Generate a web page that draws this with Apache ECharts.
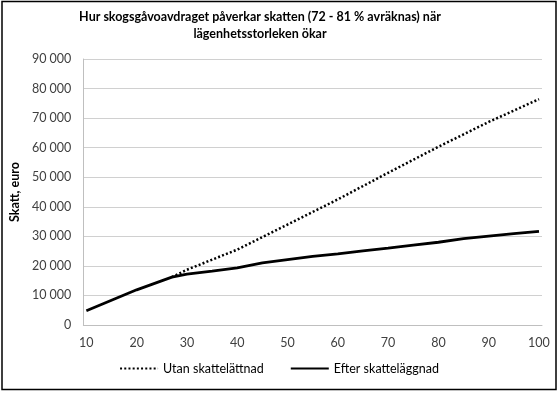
<!DOCTYPE html>
<html>
<head>
<meta charset="utf-8">
<script src="https://cdn.jsdelivr.net/npm/echarts@6/dist/echarts.min.js"></script>
<style>
html,body{margin:0;padding:0;background:#fff;}
#c{width:558px;height:393px;}
</style>
</head>
<body>
<div id="c"></div>
<script>
var titleText = 'Hur skogsgåvoavdraget påverkar skatten (72 - 81 % avräknas) när\nlägenhetsstorleken ökar';
var yAxisName = 'Skatt, euro';
var xTicks = [10, 20, 30, 40, 50, 60, 70, 80, 90, 100];
var seriesNames = ['Utan skattelättnad', 'Efter skatteläggnad'];
// Utan skattelättnad (dotted)
var utanX = [27, 30, 40, 50, 60, 70, 80, 90, 100];
var utanY = [16200, 18700, 25500, 34000, 42500, 51500, 60300, 68700, 76400];
// Efter skatteläggnad (solid)
var efterX = [10, 15, 20, 27, 30, 35, 40, 45, 50, 55, 60, 65, 70, 75, 80, 85, 90, 95, 100];
var efterY = [4800, 8400, 11900, 16200, 17200, 18200, 19300, 21000, 22100, 23200, 24100, 25100, 26000, 27000, 28000, 29200, 30100, 30900, 31700];

function pairs(xs, ys){ return xs.map(function(x,i){ return [x, ys[i]]; }); }
function fmt(v){ return v === 0 ? '0' : String(v).replace(/\B(?=(\d{3})+(?!\d))/g, ' '); }

var FONT = 'Lato, "Noto Sans", sans-serif';
var chart = echarts.init(document.getElementById('c'), null, {renderer:'canvas'});
chart.setOption({
  animation: false,
  backgroundColor: '#fff',
  grid: {left: 83, right: 16, top: 59, bottom: 68, containLabel: false},
  legend: {
    data: seriesNames, bottom: 13, left: 'center', itemGap: 26, itemWidth: 38, itemHeight: 10,
    itemStyle: {opacity: 0},
    textStyle: {fontFamily: FONT, fontSize: 12.5, color: '#000'}
  },
  xAxis: {
    type: 'value', min: 9.4, max: 100.6,
    axisLine: {show: true, lineStyle: {color: '#bfbfbf', width: 1}},
    axisTick: {show: false},
    splitLine: {show: false},
    axisLabel: {customValues: xTicks, fontFamily: FONT, fontSize: 12.5, color: '#404040', margin: 11}
  },
  yAxis: {
    type: 'value', min: 0, max: 90000, interval: 10000,
    name: yAxisName, nameLocation: 'middle', nameGap: 54,
    nameTextStyle: {fontFamily: FONT, fontSize: 12.5, fontWeight: 'bold', color: '#000'},
    axisLine: {show: true, lineStyle: {color: '#bfbfbf', width: 1}},
    axisTick: {show: false},
    splitLine: {lineStyle: {color: '#d0d0d0', width: 1}},
    axisLabel: {formatter: fmt, fontFamily: FONT, fontSize: 12.5, color: '#404040', margin: 12}
  },
  series: [
    {name: seriesNames[0], type: 'line', data: pairs(utanX, utanY), showSymbol: false, symbol: 'none',
     lineStyle: {color: '#000', width: 2.5, type: [2, 2.2], cap: 'butt'}, itemStyle: {color: '#000'}, z: 2},
    {name: seriesNames[1], type: 'line', data: pairs(efterX, efterY), showSymbol: false, symbol: 'none',
     lineStyle: {color: '#000', width: 2.8, type: 'solid'}, itemStyle: {color: '#000'}, z: 3}
  ],
  graphic: [
    {type: 'text', x: 260, y: 8, silent: true,
     style: {text: titleText, align: 'center', verticalAlign: 'top', fontFamily: FONT, fontSize: 12.5, fontWeight: 'bold', fill: '#000', lineHeight: 17}},
    {type: 'rect', shape: {x: 2, y: 1.5, width: 554, height: 388}, style: {fill: 'none', stroke: '#000', lineWidth: 1.5}, silent: true}
  ]
});
</script>
</body>
</html>
